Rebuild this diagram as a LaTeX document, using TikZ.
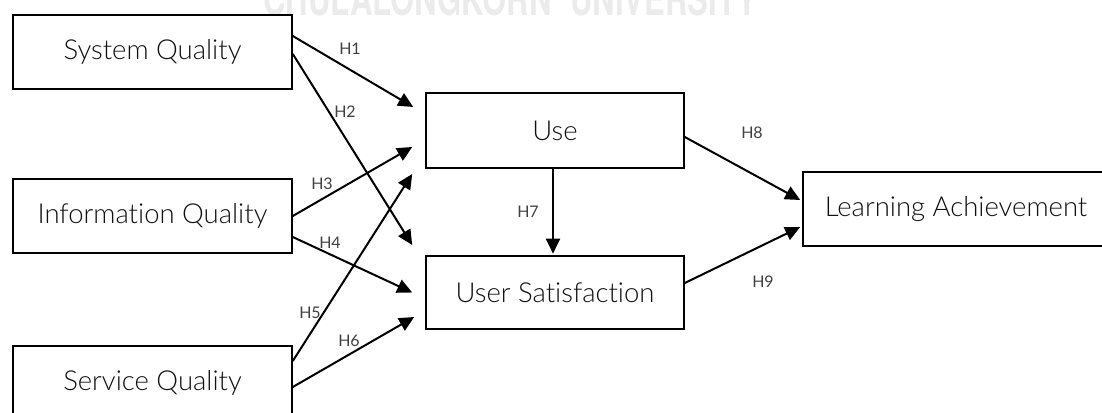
\documentclass[tikz,border=0pt]{standalone}
\usepackage{fontspec}
\setmainfont{Lato}[UprightFont={* Light}, Ligatures=NoCommon]
\newfontfamily\tagfont{Lato}
\newfontfamily\wmfont{TeX Gyre Heros}
\usetikzlibrary{arrows.meta}

\definecolor{ink}{HTML}{111111}
\definecolor{labelgray}{HTML}{404040}
\definecolor{watermark}{HTML}{EBEBEB}

\tikzset{
  box/.style={draw=black, line width=1.6pt, fill=white, inner sep=0pt,
              text=ink, font=\fontsize{27.5}{30}\selectfont},
  leftbox/.style={box, minimum width=279pt, minimum height=74pt},
  midbox/.style={box, minimum width=258pt, minimum height=74pt},
  link/.style={line width=2pt, -{Triangle[length=15pt,width=14pt]}},
  hyp/.style={inner sep=0pt, text=labelgray, font=\tagfont\fontsize{16}{18}\selectfont}
}

\begin{document}
\begin{tikzpicture}[x=1pt, y=-1pt]
  \useasboundingbox (0,0) rectangle (1102,412);
  \clip (0,0) rectangle (1102,412);

  % faint banner across the top edge
  \node[anchor=base west, inner sep=0pt, text=watermark] (banner) at (263,16)
    {\resizebox{494pt}{34pt}{\wmfont\bfseries CHULALONGKORN\hspace{0.6em}UNIVERSITY}};

  % constructs
  \node[leftbox] (sq)  at (152.5,52)  {System Quality};
  \node[leftbox] (iq)  at (152.5,216) {Information Quality};
  \node[leftbox] (svq) at (152.5,383) {Service Quality};
  \node[midbox, minimum height=75pt] (use) at (555,130.5) {Use};
  \node[midbox, minimum height=73pt] (us)  at (555,292.5) {User Satisfaction};
  \node[box, minimum width=306pt, minimum height=74pt] (la) at (956,209) {Learning Achievement};

  % hypothesised paths
  \draw[link] ([yshift=16pt]sq.east)  -- ([xshift=-12pt,yshift=23.5pt]use.west);
  \draw[link] ([yshift=-2pt]sq.east)  -- ([xshift=-13pt,yshift=47.5pt]us.west);
  \draw[link] (iq.east)               -- ([xshift=-13pt,yshift=-16.5pt]use.west);
  \draw[link] ([yshift=-21pt]iq.east) -- ([xshift=-13pt]us.west);
  \draw[link] ([yshift=22pt]svq.east) -- ([xshift=-13pt,yshift=-43.5pt]use.west);
  \draw[link] ([yshift=-4pt]svq.east) -- ([xshift=-11pt,yshift=-24.5pt]us.west);
  \draw[link] ([xshift=-2pt]use.south) -- ([xshift=-2pt,yshift=1.5pt]us.north);
  \draw[link] ([yshift=-6.5pt]use.east) -- ([xshift=-2pt,yshift=9pt]la.west);
  \draw[link] ([yshift=9.5pt]us.east)  -- ([xshift=-2pt,yshift=-18pt]la.west);

  % path labels
  \node[hyp] (h1) at (350,49)  {H1};
  \node[hyp] (h2) at (345,112) {H2};
  \node[hyp] (h3) at (322,184) {H3};
  \node[hyp] (h4) at (330,243) {H4};
  \node[hyp] (h5) at (310,313) {H5};
  \node[hyp] (h6) at (349,341) {H6};
  \node[hyp] (h7) at (528,212) {H7};
  \node[hyp] (h8) at (752,133) {H8};
  \node[hyp] (h9) at (763,282) {H9};
\end{tikzpicture}
\end{document}
